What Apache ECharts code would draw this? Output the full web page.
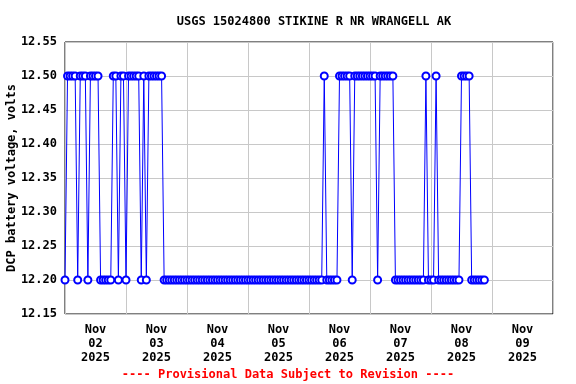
<!DOCTYPE html>
<html>
<head>
<meta charset="utf-8">
<script src="https://cdn.jsdelivr.net/npm/echarts@6/dist/echarts.min.js"></script>
<style>html,body{margin:0;padding:0;background:#fff}#c{width:576px;height:384px}</style>
</head>
<body>
<div id="c"></div>
<script>
// Hourly readings starting 2025-11-02 00:00 (hour offsets)
var startHour = 0;
var voltsDay1 = [12.2,12.5,12.5,12.5,12.5,12.2,12.5,12.5,12.5,12.2,12.5,12.5,12.5,12.5,12.2,12.2,12.2,12.2,12.2,12.5,12.5,12.2,12.5,12.5];
var voltsDay2 = [12.2,12.5,12.5,12.5,12.5,12.5,12.2,12.5,12.2,12.5,12.5,12.5,12.5,12.5,12.5,12.2,12.2,12.2,12.2,12.2,12.2,12.2,12.2,12.2];
var voltsDay3 = [12.2,12.2,12.2,12.2,12.2,12.2,12.2,12.2,12.2,12.2,12.2,12.2,12.2,12.2,12.2,12.2,12.2,12.2,12.2,12.2,12.2,12.2,12.2,12.2];
var voltsDay4 = [12.2,12.2,12.2,12.2,12.2,12.2,12.2,12.2,12.2,12.2,12.2,12.2,12.2,12.2,12.2,12.2,12.2,12.2,12.2,12.2,12.2,12.2,12.2,12.2];
var voltsDay5 = [12.2,12.2,12.2,12.2,12.2,12.2,12.5,12.2,12.2,12.2,12.2,12.2,12.5,12.5,12.5,12.5,12.5,12.2,12.5,12.5,12.5,12.5,12.5,12.5];
var voltsDay6 = [12.5,12.5,12.5,12.2,12.5,12.5,12.5,12.5,12.5,12.5,12.2,12.2,12.2,12.2,12.2,12.2,12.2,12.2,12.2,12.2,12.2,12.2,12.5,12.2];
var voltsDay7 = [12.2,12.2,12.5,12.2,12.2,12.2,12.2,12.2,12.2,12.2,12.2,12.2,12.5,12.5,12.5,12.5,12.2,12.2,12.2,12.2,12.2,12.2];
var dayLabels = ['Nov\n02\n2025','Nov\n03\n2025','Nov\n04\n2025','Nov\n05\n2025','Nov\n06\n2025','Nov\n07\n2025','Nov\n08\n2025','Nov\n09\n2025'];
var yMin = 12.15, yMax = 12.55, yStep = 0.05;

var volts = [].concat(voltsDay1, voltsDay2, voltsDay3, voltsDay4, voltsDay5, voltsDay6, voltsDay7);
var seriesData = volts.map(function (v, i) { return [startHour + i, v]; });

var FONT = '"DejaVu Sans Mono", monospace';
var chart = echarts.init(document.getElementById('c'), null, {renderer: 'canvas'});
chart.setOption({
  animation: false,
  backgroundColor: '#fff',
  title: {
    text: 'USGS 15024800 STIKINE R NR WRANGELL AK',
    left: 309, top: 11, textAlign: 'center',
    textStyle: {fontFamily: FONT, fontWeight: 'bold', fontSize: 12, color: '#000'}
  },
  grid: {left: 65, right: 23, top: 42, bottom: 70, show: true, borderColor: '#000', borderWidth: 1,
    backgroundColor: 'transparent', containLabel: false, outerBoundsMode: 'none'},
  xAxis: [{
    type: 'value', min: 0, max: 192, interval: 12,
    axisLine: {show: false}, axisTick: {show: false}, splitLine: {show: false},
    axisLabel: {
      margin: 9, lineHeight: 14, fontFamily: FONT, fontWeight: 'bold', fontSize: 12, color: '#000',
      formatter: function (v) { return (v % 24 === 12) ? dayLabels[(v - 12) / 24] : ''; }
    }
  }, {
    type: 'value', min: 0, max: 192, interval: 24, position: 'top',
    axisLine: {show: false}, axisTick: {show: false}, axisLabel: {show: false},
    splitLine: {show: true, lineStyle: {color: '#c8c8c8', width: 1}}
  }],
  yAxis: {
    type: 'value', min: yMin, max: yMax, interval: yStep,
    name: 'DCP battery voltage, volts', nameLocation: 'middle', nameGap: 47, nameMoveOverlap: false,
    nameTextStyle: {fontFamily: FONT, fontWeight: 'bold', fontSize: 12, color: '#000'},
    axisLine: {show: false}, axisTick: {show: false},
    axisLabel: {margin: 8, fontFamily: FONT, fontWeight: 'bold', fontSize: 12, color: '#000',
      formatter: function (v) { return v.toFixed(2); }},
    splitLine: {show: true, lineStyle: {color: '#c8c8c8', width: 1}}
  },
  series: [{
    type: 'line', xAxisIndex: 0, data: seriesData,
    symbol: 'emptyCircle', symbolSize: 7, showAllSymbol: true,
    lineStyle: {color: '#0000ff', width: 1},
    itemStyle: {color: '#0000ff', borderColor: '#0000ff', borderWidth: 1},
    z: 3
  }],
  graphic: [{
    type: 'text', left: 'center', top: 369,
    style: {text: '---- Provisional Data Subject to Revision ----', fill: '#ff0000',
      font: 'bold 12px "DejaVu Sans Mono", monospace', textAlign: 'center'}
  }]
});
</script>
</body>
</html>
